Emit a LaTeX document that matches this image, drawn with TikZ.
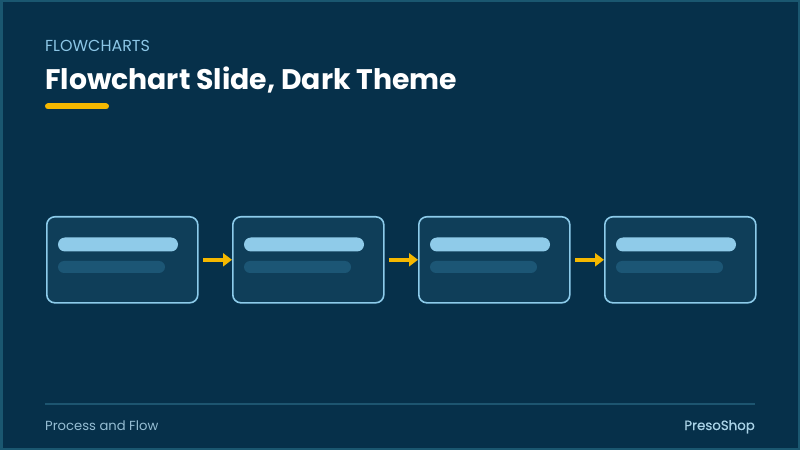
\documentclass[tikz,border=0pt]{standalone}
\usepackage{fontspec}
\setmainfont{Poppins}
\newfontfamily\medfont{Poppins}[FakeBold=0.6]
\usetikzlibrary{arrows.meta}
\definecolor{bg}{HTML}{06304A}
\definecolor{frame}{HTML}{1A5770}
\definecolor{boxfill}{HTML}{0F3E59}
\definecolor{boxline}{HTML}{8CCBEA}
\definecolor{barA}{HTML}{8FCBE9}
\definecolor{barB}{HTML}{1C5675}
\definecolor{accent}{HTML}{F5B800}
\definecolor{kicker}{HTML}{8CC6E6}
\definecolor{foot}{HTML}{95BDD3}
\definecolor{footB}{HTML}{A9D2E6}
\definecolor{rule}{HTML}{1D5570}
\tikzset{
  card/.style={draw=boxline, fill=boxfill, line width=1.6bp, rounded corners=8bp, minimum width=151bp, minimum height=86bp, inner sep=0pt},
  barone/.style={fill=barA, rounded corners=7bp},
  bartwo/.style={fill=barB, rounded corners=6bp},
  flow/.style={draw=accent, line width=3.8bp, -{Triangle[length=9bp,width=13bp]}},
  lbl/.style={inner sep=0pt, anchor=base west}
}
\begin{document}
\begin{tikzpicture}[x=1bp,y=-1bp]
\useasboundingbox (0,0) rectangle (800,450);
\fill[frame] (0,0) rectangle (800,450);
\fill[bg] (2.5,2.5) rectangle (797.5,447.5);
% header
\node[lbl, text=kicker, font=\fontsize{16}{19}\selectfont] (kick) at (45,51.5) {FLOWCHARTS};
\node[lbl, text=white, font=\fontsize{28.4}{33}\selectfont\bfseries] (title) at (45,90) {Flowchart Slide, Dark Theme};
\draw[accent, line width=6bp, line cap=round] (48,106.5) coordinate (u1) -- (106,106.5) coordinate (u2);
% cards
\foreach \i/\x in {1/46,2/232,3/418,4/604}{
  \node[card, anchor=north west] (c\i) at (\x,216) {};
  \fill[barone] (\x+12,237.5) rectangle (\x+132,251.5);
  \fill[bartwo] (\x+12,261) rectangle (\x+119,273);
}
\draw[flow] ([xshift=4.5bp]c1.east) -- (c2.west);
\draw[flow] ([xshift=4.5bp]c2.east) -- (c3.west);
\draw[flow] ([xshift=4.5bp]c3.east) -- (c4.west);
% footer
\draw[rule, line width=1.5bp] (45,404) coordinate (r1) -- (755,404) coordinate (r2);
\node[lbl, text=foot, font=\fontsize{13.2}{15}\selectfont] (f1) at (45,430) {Process and Flow};
\node[inner sep=0pt, anchor=base east, text=footB, font=\medfont\fontsize{13.4}{15}\selectfont] (f2) at (755,430) {PresoShop};
\end{tikzpicture}
\end{document}
